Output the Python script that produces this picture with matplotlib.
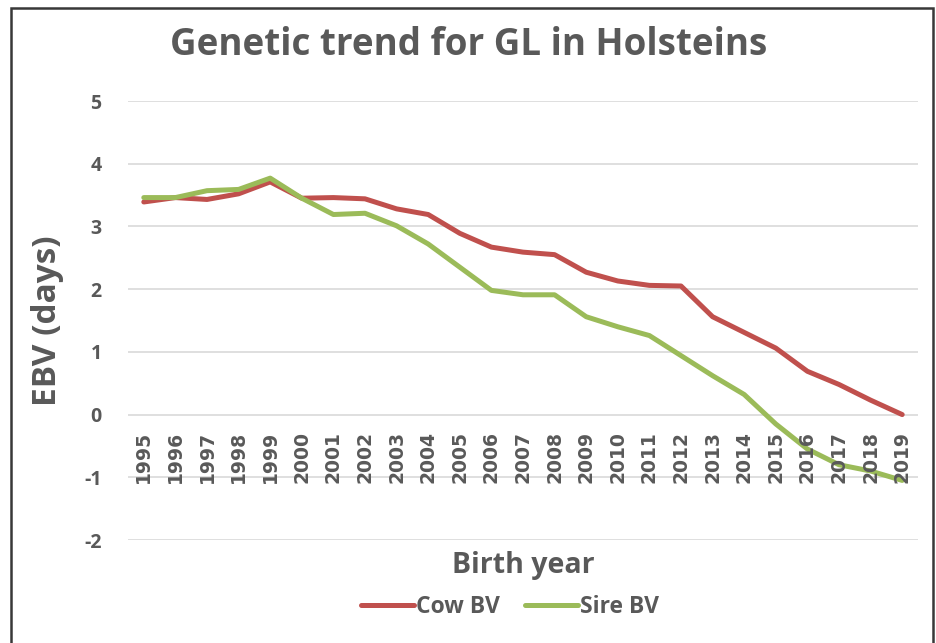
import numpy as np
import matplotlib.pyplot as plt
from matplotlib.patches import Rectangle

# Data
years = [str(y) for y in range(1995, 2020)]
cow_bv = [3.39, 3.46, 3.43, 3.52, 3.71, 3.45, 3.46, 3.44, 3.28, 3.19, 2.89, 2.67,
          2.59, 2.55, 2.27, 2.13, 2.06, 2.05, 1.56, 1.31, 1.06, 0.69, 0.48, 0.23, 0.0]
sire_bv = [3.46, 3.46, 3.57, 3.59, 3.77, 3.45, 3.19, 3.21, 3.01, 2.72, 2.35, 1.98,
           1.91, 1.91, 1.56, 1.40, 1.26, 0.94, 0.62, 0.32, -0.15, -0.55, -0.80, -0.90, -1.05]
yticks = [-2, -1, 0, 1, 2, 3, 4, 5]

gray = '#595959'
plt.rcParams['font.family'] = ['Open Sans', 'DejaVu Sans']

fig = plt.figure(figsize=(9.37, 6.43), dpi=100)
ax = fig.add_axes([128 / 937, 1 - 540 / 643, 790 / 937, 439 / 643])

x = np.arange(len(years))
ax.plot(x, cow_bv, color='#C0504D', lw=3.6, label='Cow BV', solid_capstyle='round')
ax.plot(x, sire_bv, color='#9BBB59', lw=3.6, label='Sire BV', solid_capstyle='round')

ax.set_xlim(-0.5, len(years) - 0.5)
ax.set_ylim(-2, 5)
ax.set_yticks(yticks)
ax.set_yticklabels([str(v) for v in yticks], fontsize=14, fontweight='bold', color=gray)
ax.tick_params(axis='y', length=0, pad=19)
ax.set_xticks([])
ax.grid(axis='y', color='#D9D9D9', lw=1.2)
ax.set_axisbelow(True)
for s in ax.spines.values():
    s.set_visible(False)

# category labels sit under the zero line
for i, yr in enumerate(years):
    ax.annotate(yr, (i, 0), xytext=(0, -12), textcoords='offset points',
                rotation=90, ha='center', va='top', fontsize=13.5,
                fontweight='bold', color=gray, family='DejaVu Sans')

fig.text(0.5, 1 - 45 / 643, 'Genetic trend for GL in Holsteins', ha='center', va='center',
         fontsize=26.5, fontweight='bold', color=gray)
fig.text(48 / 937, 1 - 321 / 643, 'EBV (days)', rotation=90, ha='center', va='center',
         fontsize=24, fontweight='bold', color=gray)
fig.text(523 / 937, 1 - 566 / 643, 'Birth year', ha='center', va='center',
         fontsize=20.5, fontweight='bold', color=gray)

leg = fig.legend(loc='center', bbox_to_anchor=(510 / 937, 1 - 607 / 643), ncol=2,
                 frameon=False, fontsize=16.5, handlelength=2.3, handletextpad=0.1,
                 columnspacing=1.1)
for t in leg.get_texts():
    t.set_fontweight('bold')
    t.set_color(gray)

fig.patches.append(Rectangle((11 / 937, -0.01), 922 / 937, 1 - 8 / 643 + 0.01,
                             transform=fig.transFigure, fill=False,
                             edgecolor='#383838', lw=1.8))

fig.savefig('out.png', dpi=100)
